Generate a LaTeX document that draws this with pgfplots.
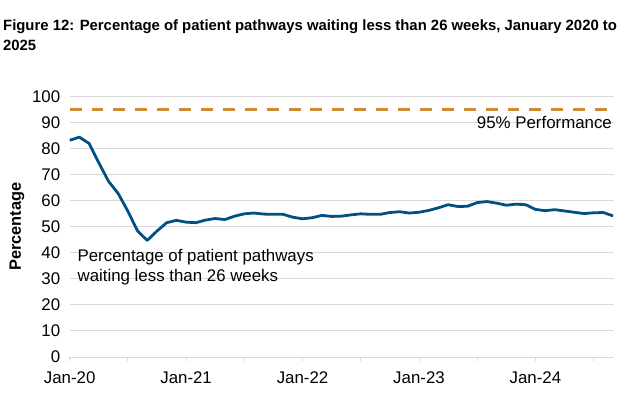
\documentclass[border=0pt]{standalone}
\usepackage{pgfplots}
\pgfplotsset{compat=1.18}
\usepackage{fontspec}
\setmainfont{Liberation Sans}
\definecolor{lineblue}{RGB}{0,80,130}
\definecolor{perforange}{RGB}{204,138,52}
\definecolor{gridgray}{RGB}{217,217,217}
\begin{document}
\begin{tikzpicture}
  \begin{axis}[
      at={(0,0)}, anchor=south west,
      scale only axis, width=547bp, height=262bp,
      xmin=0, xmax=56.1, ymin=0, ymax=100,
      axis line style={draw=none},
      xtick={0,12,24,36,48},
      xticklabels={Jan-20,Jan-21,Jan-22,Jan-23,Jan-24},
      minor xtick={6,18,30,42,54},
      xtick pos=bottom, ytick pos=left,
      tick align=outside,
      major tick length=4bp, minor tick length=4bp,
      xtick style={draw=gridgray, line width=0.8pt},
      minor tick style={draw=gridgray, line width=0.8pt},
      ytick={0,10,...,100},
      ytick style={draw=none},
      ymajorgrids, major grid style={draw=gridgray, line width=0.8pt},
      tick label style={font=\fontsize{17}{20}\selectfont},
      /pgf/number format/assume math mode=true,
      yticklabel style={xshift=-2bp},
      xticklabel style={yshift=-7bp},
      ylabel={\bfseries Percentage},
      ylabel style={font=\fontsize{16.5}{19}\selectfont, yshift=1bp},
      clip=true,
    ]
    \addplot[perforange, line width=3bp, dash pattern=on 12bp off 10bp] coordinates {(0,95) (56.1,95)};
    \addplot[lineblue, line width=2.8bp, line join=round] coordinates {
      (0,83.1) (1,84.3) (2,81.9) (3,74.5) (4,67.4) (5,62.7) (6,55.9) (7,48.3)
      (8,44.7) (9,48.3) (10,51.5) (11,52.4) (12,51.7) (13,51.5) (14,52.5) (15,53.1)
      (16,52.7) (17,54.0) (18,54.9) (19,55.2) (20,54.8) (21,54.7) (22,54.7) (23,53.6)
      (24,53.0) (25,53.4) (26,54.3) (27,53.9) (28,54.0) (29,54.5) (30,54.9) (31,54.7)
      (32,54.7) (33,55.4) (34,55.7) (35,55.2) (36,55.5) (37,56.2) (38,57.2) (39,58.4)
      (40,57.7) (41,57.8) (42,59.2) (43,59.6) (44,59.0) (45,58.2) (46,58.6) (47,58.4)
      (48,56.6) (49,56.1) (50,56.5) (51,56.0) (52,55.5) (53,55.0) (54,55.3) (55,55.4)
      (56,54.1)
    };
    \node[anchor=north east, inner sep=0pt, font=\fontsize{17}{20}\selectfont]
      at (axis cs:55.9,92.3) {95\% Performance};
    \node[anchor=west, inner sep=0pt, align=left, font=\fontsize{17}{20}\selectfont]
      at (axis cs:0.8,34.3) {Percentage of patient pathways\\waiting less than 26 weeks};
  \end{axis}
  \node[anchor=north west, inner sep=0pt, align=left,
        font=\fontsize{15}{20}\selectfont\bfseries]
    at (-67bp,339bp) {Figure 12: Percentage of patient pathways waiting less than 26 weeks, January 2020 to\\2025};
  \useasboundingbox (-70bp,-52.3bp) rectangle (547bp,358.7bp);
\end{tikzpicture}
\end{document}
